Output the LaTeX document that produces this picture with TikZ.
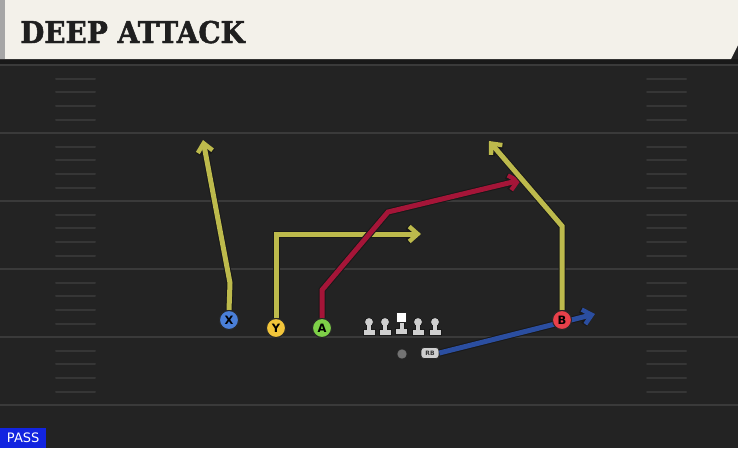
\documentclass[tikz,border=0pt]{standalone}
\usepackage{fontspec}
\setmainfont{DejaVu Sans}
\newfontfamily\titlefont[BoldFeatures={FakeBold=1.6}]{DejaVu Serif}
\usetikzlibrary{arrows.meta}
\definecolor{fieldbg}{HTML}{232323}
\definecolor{yardln}{HTML}{3A3A3A}
\definecolor{hashc}{HTML}{363636}
\definecolor{hdr}{HTML}{F3F1EA}
\definecolor{ryel}{HTML}{BDBA4C}
\definecolor{rred}{HTML}{A51538}
\definecolor{rblue}{HTML}{2B4EA0}
\definecolor{pX}{HTML}{4A7FD8}
\definecolor{pY}{HTML}{F2C53A}
\definecolor{pA}{HTML}{7ED048}
\definecolor{pB}{HTML}{E8404A}
\definecolor{olc}{HTML}{CFCFCF}
\definecolor{passblue}{HTML}{1224E0}
\tikzset{
  route/.style={line width=5pt, draw=#1, line cap=butt, line join=miter,
    -{Straight Barb[length=8.5pt,width=15pt,line width=4.4pt]},
    preaction={draw=black!90, line width=7pt, -{Straight Barb[length=8.5pt,width=15pt,line width=6.4pt]}}},
  player/.style={circle, draw=black!85, line width=1pt, fill=#1, minimum size=19pt, inner sep=0pt,
    font=\bfseries\fontsize{11.5}{11.5}\selectfont},
  yline/.style={draw=yardln, line width=2pt},
  hashm/.style={draw=hashc, line width=2pt, line cap=round},
  lineman/.style={fill=olc, draw=black!90, line width=0.8pt},
}
\begin{document}
\begin{tikzpicture}[x=1pt,y=-1pt]
\useasboundingbox (0,0) rectangle (738,448);
% field
\fill[fieldbg] (0,0) rectangle (738,448);
\fill[black!90] (0,59) rectangle (738,65);
% yard lines
\foreach \yy in {65,133,201,269,337,405} {
  \draw[yline] (0,\yy) -- (738,\yy);
}
% hash marks
\foreach \base in {65,133,201,269,337} {
  \foreach \off in {14,27,41,55} {
    \draw[hashm] (56,\base+\off) -- (95,\base+\off);
    \draw[hashm] (647,\base+\off) -- (686,\base+\off);
  }
}
% header
\fill[hdr] (0,0) -- (738,0) -- (738,45) -- (731,59) -- (0,59) -- cycle;
\fill[black!35] (0,0) rectangle (5,59);
\node[anchor=base west, inner sep=0pt, text=black!88] (title) at (20,43)
  {\scalebox{0.93}[1]{\titlefont\bfseries\fontsize{30}{30}\selectfont DEEP ATTACK}};
% coordinates
\coordinate (xb) at (230,283);
\coordinate (xe) at (203,140);
\coordinate (yb) at (276,234);
\coordinate (ye) at (421,234);
\coordinate (ab1) at (322,290);
\coordinate (ab2) at (388,212);
\coordinate (ae) at (521,180);
\coordinate (bb) at (562,226);
\coordinate (be) at (489,141);
\coordinate (rbe) at (595,314);
% players
\node[player=pX] (X) at (229,320) {X};
\node[player=pY] (Y) at (276,328) {Y};
\node[player=pA] (A) at (322,328) {A};
\node[player=pB] (B) at (562,320) {B};
\node[circle, fill=black!55, draw=black!85, minimum size=10pt, inner sep=0pt] (QB) at (402,354) {};
\node[rounded corners=3pt, fill=olc, draw=black!85, line width=0.8pt, minimum width=18pt, minimum height=11pt,
  inner sep=0pt, font=\bfseries\fontsize{6}{6}\selectfont, text=black!80] (RB) at (430,353) {RB};
% routes
\draw[route=rblue] (RB.east) -- (rbe);
\draw[route=ryel] (X.north) -- (xb) -- (xe);
\draw[route=ryel] (Y.north) -- (yb) -- (ye);
\draw[route=rred] (A.north) -- (ab1) -- (ab2) -- (ae);
\draw[route=ryel] (B.north) -- (bb) -- (be);
\node[player=pX] at (X) {X};
\node[player=pY] at (Y) {Y};
\node[player=pA] at (A) {A};
\node[player=pB] at (B) {B};
% linemen
\foreach \lx in {369,385,418,435} {
  \filldraw[lineman]
    (\lx-2.5,323) -- (\lx-2.5,329.5) -- (\lx-6,329.5) -- (\lx-6,335.5) -- (\lx+6,335.5) -- (\lx+6,329.5) -- (\lx+2.5,329.5) -- (\lx+2.5,323) -- cycle;
  \filldraw[lineman] (\lx,322) circle (4.5);
  \fill[olc] (\lx-1.7,322) rectangle (\lx+1.7,330);
}
\filldraw[lineman]
  (399,321) -- (399,328.5) -- (395.5,328.5) -- (395.5,334.5) -- (407.5,334.5) -- (407.5,328.5) -- (404,328.5) -- (404,321) -- cycle;
\filldraw[fill=white, draw=black!85, line width=0.8pt] (396.5,312.5) rectangle (406.5,322);
% PASS label
\node[anchor=south west, fill=passblue, text=white, inner sep=0pt, minimum width=46pt, minimum height=20pt,
  font=\fontsize{13}{13}\selectfont] (pass) at (0,448) {PASS};
\end{tikzpicture}
\end{document}
